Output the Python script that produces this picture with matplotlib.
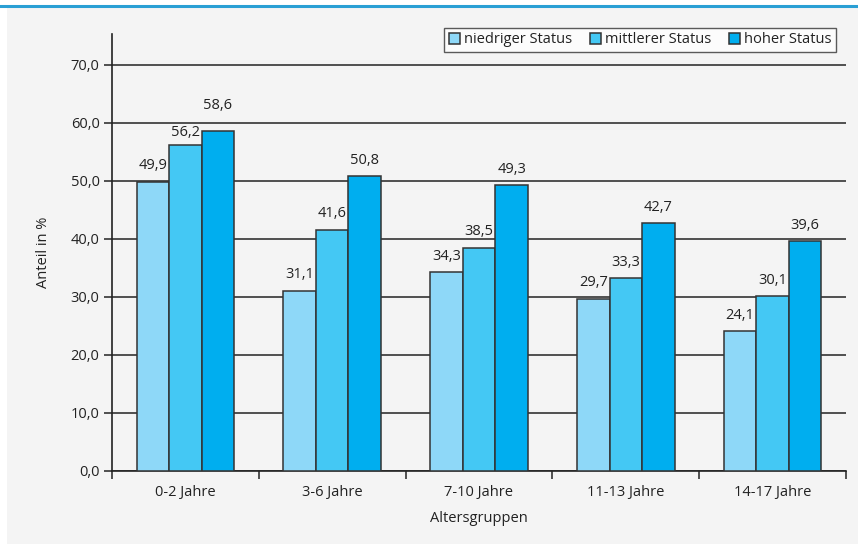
import matplotlib
matplotlib.use("Agg")
import matplotlib.pyplot as plt
import numpy as np
from matplotlib.patches import Rectangle
from matplotlib.lines import Line2D

categories = ["0-2 Jahre", "3-6 Jahre", "7-10 Jahre", "11-13 Jahre", "14-17 Jahre"]
series_names = ["niedriger Status", "mittlerer Status", "hoher Status"]
niedrig = [49.9, 31.1, 34.3, 29.7, 24.1]
mittel = [56.2, 41.6, 38.5, 33.3, 30.1]
hoch = [58.6, 50.8, 49.3, 42.7, 39.6]
yticks = [0, 10, 20, 30, 40, 50, 60, 70]
colors = ["#8ed8f8", "#44c8f4", "#00aeef"]

# label offsets in points (layout only); default 6 pt
label_offset = {(1, 0): 3.6, (2, 0): 13.0}

plt.rcParams['font.family'] = ['Open Sans', 'DejaVu Sans']
W, H = 858, 544
fig = plt.figure(figsize=(W/100, H/100), dpi=100)
fig.patch.set_facecolor("white")
# background panel and top line
fig.patches.append(Rectangle((7/W, 0), 1, 1 - 7/H, transform=fig.transFigure,
                             facecolor="#f4f4f4", edgecolor="none", zorder=-10))
fig.lines.append(Line2D([0, 1], [1 - 5.5/H, 1 - 5.5/H], transform=fig.transFigure,
                        color="#2a9fd4", lw=2.2, zorder=-5))

left, right, bottom_px = 112, 846, 471
ymax = 75.3
scale = 406/70
top_px = bottom_px - ymax*scale
ax = fig.add_axes([left/W, 1 - bottom_px/H, (right-left)/W, (bottom_px-top_px)/H])
ax.set_facecolor("none")
ax.set_zorder(2)

x = np.arange(len(categories))
bw = 0.222
data = [niedrig, mittel, hoch]
for i, (vals, c, name) in enumerate(zip(data, colors, series_names)):
    pos = x + (i - 1)*bw
    ax.bar(pos, vals, width=bw, color=c, edgecolor="#333333", linewidth=1.1,
           label=name, zorder=3)
    for j, (p, v) in enumerate(zip(pos, vals)):
        off = label_offset.get((i, j), 6.0)
        ax.annotate(f"{v:.1f}".replace(".", ","), (p, v), xytext=(0, off),
                    textcoords="offset points", ha="center", va="bottom",
                    fontsize=10.5, color="#222222")

ax.set_xlim(-0.5, len(categories) - 0.5)
ax.set_ylim(0, ymax)
ax.set_yticks(yticks)
ax.set_yticklabels([f"{t:.1f}".replace(".", ",") for t in yticks], fontsize=10.5, color="#222222")
ax.yaxis.grid(True, color="#222222", linewidth=1.1, zorder=0)
ax.set_axisbelow(True)
ax.set_xticks(x)
ax.set_xticklabels(categories, fontsize=10.5, color="#222222")
ax.tick_params(axis="x", length=0, pad=10)
ax.set_xticks(np.arange(len(categories) + 1) - 0.5, minor=True)
ax.tick_params(axis="x", which="minor", length=6, width=1.1, color="#222222", direction="out")
ax.tick_params(axis="y", length=6, width=1.1, color="#222222", direction="out", pad=3)
for s in ["top", "right"]:
    ax.spines[s].set_visible(False)
for s in ["left", "bottom"]:
    ax.spines[s].set_color("#222222")
    ax.spines[s].set_linewidth(1.2)
ax.set_xlabel("Altersgruppen", fontsize=10.5, color="#222222", labelpad=8)
ax.set_ylabel("Anteil in %", fontsize=10.5, color="#222222", labelpad=14)

leg = fig.legend(loc="upper right", bbox_to_anchor=(836/W, 1 - 28/H), ncol=3,
                 fontsize=10.5, frameon=True, fancybox=False, edgecolor="#333333",
                 handlelength=0.8, handleheight=0.8, handletextpad=0.25,
                 columnspacing=1.2, borderpad=0.3, borderaxespad=0)
leg.set_zorder(5)
leg.get_frame().set_linewidth(1.0)
leg.get_frame().set_facecolor("white")
for t in leg.get_texts():
    t.set_color("#222222")

fig.savefig("out.png", dpi=100, facecolor=fig.get_facecolor())
